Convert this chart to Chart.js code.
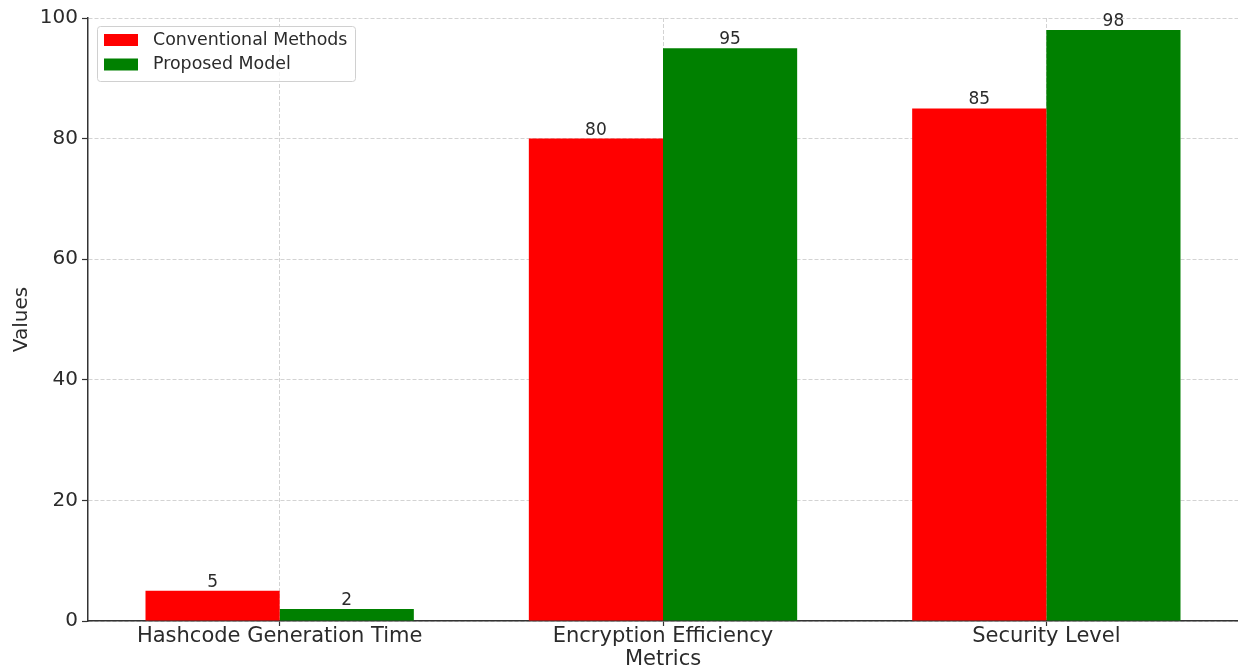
<!DOCTYPE html>
<html>
<head>
<meta charset="utf-8">
<script src="https://cdn.jsdelivr.net/npm/chart.js@4.4.0/dist/chart.umd.min.js"></script>
<style>
  html, body { margin: 0; padding: 0; background: #fff; overflow: hidden; }
  #wrap { width: 1238px; height: 670px; }
</style>
</head>
<body>
<div id="wrap"><canvas id="myChart" width="1238" height="670"></canvas></div>
<script>
const categories = ["Hashcode Generation Time", "Encryption Efficiency", "Security Level"];
const conventionalValues = [5, 80, 85];
const proposedValues = [2, 95, 98];
const seriesNames = ["Conventional Methods", "Proposed Model"];
const yTicks = [0, 20, 40, 60, 80, 100];

const textColor = "#2b2b2b";
const font = "'DejaVu Sans', sans-serif";

// value labels on top of each bar
const barLabels = {
  id: "barLabels",
  afterDatasetsDraw(chart) {
    const ctx = chart.ctx;
    ctx.save();
    ctx.font = "17px " + font;
    ctx.fillStyle = textColor;
    ctx.textAlign = "center";
    ctx.textBaseline = "alphabetic";
    chart.data.datasets.forEach((ds, i) => {
      chart.getDatasetMeta(i).data.forEach((bar, j) => {
        ctx.fillText(String(ds.data[j]), bar.x, bar.y - 4);
      });
    });
    ctx.restore();
  }
};

// matplotlib-like legend box in the upper left corner
const boxLegend = {
  id: "boxLegend",
  afterDraw(chart) {
    const ctx = chart.ctx;
    const x = 97, y = 26, w = 258, h = 55;
    ctx.save();
    ctx.fillStyle = "rgba(255,255,255,0.8)";
    ctx.strokeStyle = "#d0d0d0";
    ctx.lineWidth = 1;
    ctx.beginPath();
    ctx.roundRect(x + 0.5, y + 0.5, w, h, 3);
    ctx.fill();
    ctx.stroke();
    ctx.font = "17.4px " + font;
    ctx.textBaseline = "middle";
    chart.data.datasets.forEach((ds, i) => {
      const cy = 40 + i * 24.5;
      ctx.fillStyle = ds.backgroundColor;
      ctx.fillRect(104, cy - 6, 34, 12);
      ctx.fillStyle = textColor;
      ctx.fillText(ds.label, 153, cy);
    });
    ctx.restore();
  }
};

new Chart(document.getElementById("myChart"), {
  type: "bar",
  data: {
    labels: categories,
    datasets: [
      {
        label: seriesNames[0],
        data: conventionalValues,
        backgroundColor: "#ff0000",
        categoryPercentage: 0.7,
        barPercentage: 1.0,
      },
      {
        label: seriesNames[1],
        data: proposedValues,
        backgroundColor: "#008000",
        categoryPercentage: 0.7,
        barPercentage: 1.0,
      },
    ],
  },
  options: {
    responsive: false,
    animation: false,
    layout: { padding: { top: 18, right: 0, bottom: 0, left: 0 } },
    plugins: {
      legend: { display: false },
      tooltip: { enabled: false },
    },
    scales: {
      x: {
        type: "category",
        offset: true,
        afterFit: (scale) => { scale.height = 49; },
        grid: {
          offset: false,
          color: "#c8c8c8",
          lineWidth: 0.8,
          drawTicks: true,
          tickLength: 5,
          tickColor: "#333333",
          tickWidth: 1.2,
        },
        border: { display: true, color: "#333333", width: 1.5, dash: [4, 2] },
        ticks: {
          color: textColor,
          padding: 0,
          font: { family: font, size: 21, lineHeight: 1 },
          maxRotation: 0,
        },
        title: {
          display: true,
          text: "Metrics",
          color: textColor,
          font: { family: font, size: 21, lineHeight: 1 },
          padding: { top: 0, bottom: 0 },
        },
      },
      y: {
        min: 0,
        max: 100,
        afterFit: (scale) => { scale.width = 88; },
        afterBuildTicks: (scale) => { scale.ticks = yTicks.map((v) => ({ value: v })); },
        grid: {
          color: "#c8c8c8",
          lineWidth: 0.8,
          drawTicks: true,
          tickLength: 6,
          tickColor: "#333333",
          tickWidth: 1.2,
        },
        border: { display: true, color: "#333333", width: 1.5, dash: [4, 2] },
        ticks: {
          color: textColor,
          padding: 4,
          font: { family: font, size: 20 },
        },
        title: {
          display: true,
          text: "Values",
          color: textColor,
          font: { family: font, size: 20, lineHeight: 1 },
          padding: { top: 12, bottom: 0 },
        },
      },
    },
  },
  plugins: [barLabels, boxLegend],
});
</script>
</body>
</html>
